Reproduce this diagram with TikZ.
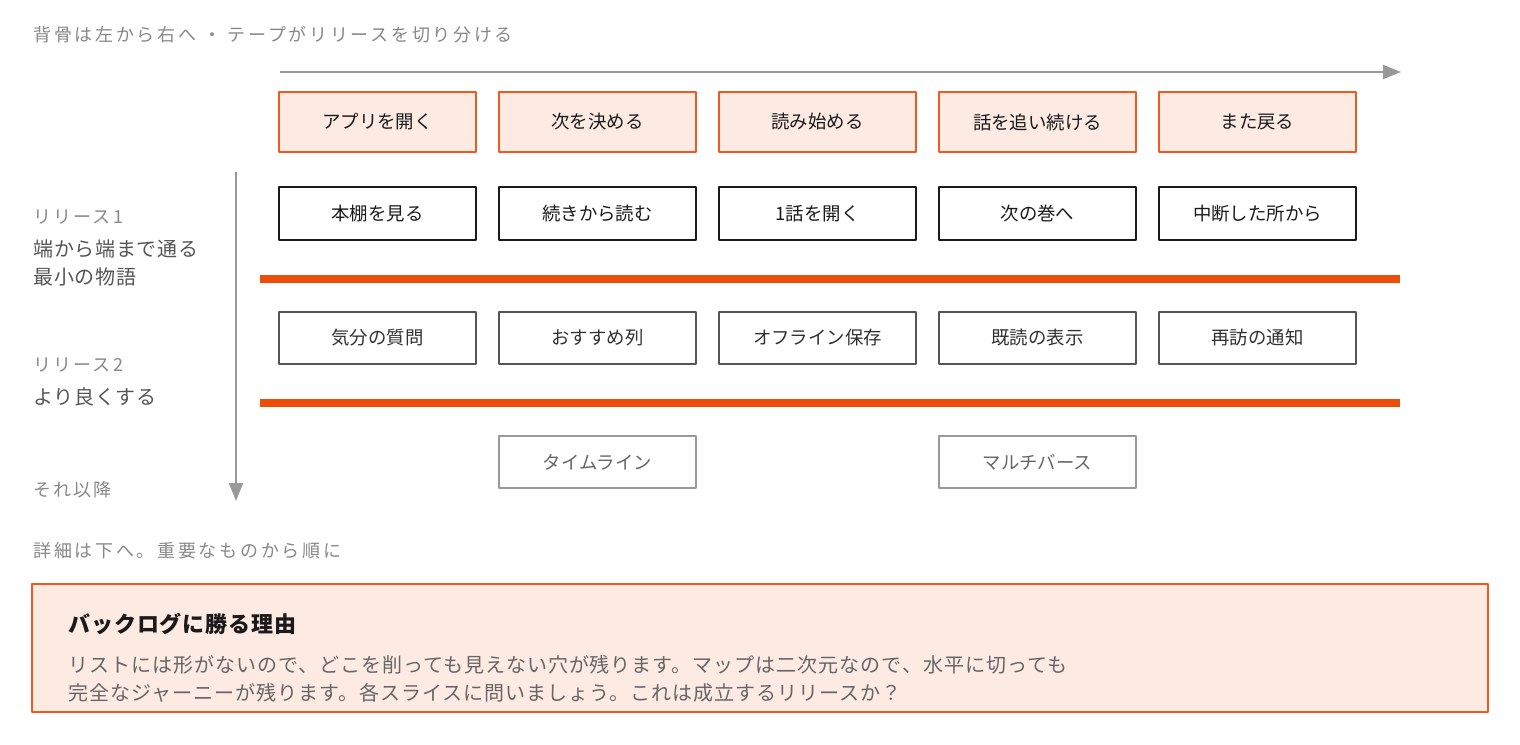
\documentclass[tikz,border=0pt]{standalone}
\usepackage{fontspec}
\setmainfont{Noto Sans CJK JP}
\usetikzlibrary{arrows.meta}
\definecolor{spineline}{HTML}{F15A1F}
\definecolor{spinefill}{HTML}{FDEBE3}
\definecolor{tape}{HTML}{EC4E0A}
\definecolor{ink}{HTML}{1A1A1A}
\definecolor{midgray}{HTML}{555555}
\definecolor{softgray}{HTML}{999999}
\definecolor{labelgray}{HTML}{888888}
\definecolor{bodygray}{HTML}{666666}
\newcommand{\tracked}[1]{\addfontfeature{LetterSpace=#1}}
\begin{document}
\begin{tikzpicture}[x=0.5pt, y=-0.5pt, line join=round, >={Triangle[length=9pt,width=7pt]},
    card/.style={draw, line width=1.1pt, minimum width=98.5pt, inner sep=0pt, font=\fontsize{9.2pt}{11pt}\selectfont},
    spine/.style={card, draw=spineline, fill=spinefill, line width=1.3pt, minimum height=30pt, text=ink},
    walk/.style={card, draw=ink, minimum height=26.5pt, text=ink},
    better/.style={card, draw=midgray, minimum height=26pt, text=ink!90},
    later/.style={card, draw=softgray, minimum height=26pt, text=bodygray},
    caption/.style={anchor=west, inner sep=0pt, yshift=-0.8pt, text=labelgray, font=\fontsize{9pt}{10pt}\selectfont\tracked{15}},
    relname/.style={anchor=west, inner sep=0pt, yshift=-0.6pt, text=labelgray, font=\fontsize{9pt}{10pt}\selectfont\tracked{12}},
    relgoal/.style={anchor=west, inner sep=0pt, yshift=-0.6pt, align=left, text=midgray, font=\fontsize{10pt}{14pt}\selectfont\tracked{3.5}},
    axis/.style={draw=softgray, line width=1pt},
    cut/.style={draw=tape, line width=4pt}]
\useasboundingbox (0,0) rectangle (1520,744);

% captions
\node[caption] (head) at (33,33) {背骨は左から右へ ・ テープがリリースを切り分ける};
\node[caption] (more) at (33,549) {詳細は下へ。重要なものから順に};

% axes
\coordinate (spineL) at (280,72);
\coordinate (spineR) at (1401,72);
\draw[axis,->] (spineL) -- (spineR);
\coordinate (timeT) at (236,172);
\coordinate (timeB) at (236,501);
\draw[axis,->] (timeT) -- (timeB);

% backbone and slices
\foreach \i/\x/\t in {1/377.5/アプリを開く,2/597.5/次を決める,3/817.5/読み始める,4/1037.5/話を追い続ける,5/1257.5/また戻る}
    \node[spine] (s\i) at (\x,122) {\t};
\foreach \i/\x/\t in {1/377.5/本棚を見る,2/597.5/続きから読む,3/817.5/1話を開く,4/1037.5/次の巻へ,5/1257.5/中断した所から}
    \node[walk] (w\i) at (\x,213.5) {\t};
\foreach \i/\x/\t in {1/377.5/気分の質問,2/597.5/おすすめ列,3/817.5/オフライン保存,4/1037.5/既読の表示,5/1257.5/再訪の通知}
    \node[better] (b\i) at (\x,338) {\t};
\node[later] (l2) at (597.5,462) {タイムライン};
\node[later] (l4) at (1037.5,462) {マルチバース};

% tapes
\coordinate (cut1L) at (260,279);
\coordinate (cut1R) at (1400,279);
\coordinate (cut2L) at (260,403);
\coordinate (cut2R) at (1400,403);
\draw[cut] (cut1L) -- (cut1R);
\draw[cut] (cut2L) -- (cut2R);

% release labels
\node[relname] (r1) at (33,216) {リリース1};
\node[relgoal] (g1) at (33,262) {端から端まで通る\\最小の物語};
\node[relname] (r2) at (33,364) {リリース2};
\node[relgoal] (g2) at (33,396) {より良くする};
\node[relname] (r3) at (33,488) {それ以降};

% why box
\draw[draw=spineline, fill=spinefill, line width=1.3pt] (32,584) rectangle (1488,712);
\node[anchor=west, inner sep=0pt, yshift=-0.6pt, text=ink, font=\fontsize{11pt}{12pt}\selectfont\bfseries\tracked{4}] (why) at (68,623) {バックログに勝る理由};
\node[anchor=west, inner sep=0pt, yshift=-0.8pt, align=left, text=bodygray, font=\fontsize{10pt}{14pt}\selectfont\tracked{5}] (whytext) at (68,677)
    {リストには形がないので、どこを削っても見えない穴が残ります。マップは二次元なので、水平に切っても\\完全なジャーニーが残ります。各スライスに問いましょう。これは成立するリリースか？};
\end{tikzpicture}
\end{document}
